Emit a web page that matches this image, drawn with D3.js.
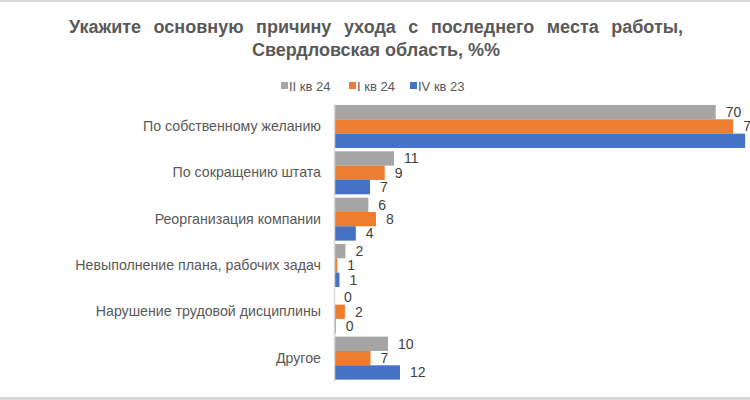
<!DOCTYPE html>
<html><head><meta charset="utf-8">
<script src="https://cdn.jsdelivr.net/npm/d3@7"></script>
<style>body{margin:0;background:#fff}svg{display:block;font-family:"Liberation Sans",Arial,sans-serif}</style>
</head><body><svg id="c" width="750" height="400"></svg>
<script>
const titleLines = ["Укажите основную причину ухода с последнего места работы,", "Свердловская область, %%"];
const categories = ["По собственному желанию","По сокращению штата","Реорганизация компании","Невыполнение плана, рабочих задач","Нарушение трудовой дисциплины","Другое"];
const seriesNames = ["II кв 24","I кв 24","IV кв 23"];
const seriesColors = ["#a5a5a5","#ed7d31","#4472c4"];
const q2_24 = [70, 11, 6.3, 2.1, 0, 9.9];
const q1_24 = [73.2, 9.3, 7.7, 0.6, 2, 6.7];
const q4_23 = [75.4, 6.6, 4, 1, 0.3, 12.1];
const seriesValues = [q2_24, q1_24, q4_23];

const svg = d3.select("#c");
const W = 750, H = 400;
svg.append("rect").attr("x",0).attr("y",0).attr("width",W).attr("height",2).attr("fill","#d9d9d9");
svg.append("rect").attr("x",0).attr("y",H-3).attr("width",W).attr("height",3).attr("fill","#d9d9d9");

const t = svg.append("text").attr("text-anchor","middle").attr("fill","#595959")
  .attr("font-weight","bold").attr("font-size",18);
titleLines.forEach((l,i)=>t.append("tspan").attr("x",376).attr("y",33+i*23)
  .attr("word-spacing", i===0 ? 7.5 : 0).text(l));

const legX = [281, 349, 410];
seriesNames.forEach((n,i)=>{
  const g = svg.append("g").attr("transform",`translate(${legX[i]},86)`);
  g.append("rect").attr("x",0).attr("y",-4).attr("width",7).attr("height",7).attr("fill",seriesColors[i]);
  g.append("text").attr("x",8).attr("y",4.5).attr("font-size",13).attr("fill","#595959").text(n);
});

const x0 = 334;
const x = d3.scaleLinear().domain([0,70]).range([x0, 715.7]);
const y = d3.scaleBand().domain(categories).range([103.3, 381.3]).paddingInner(0.072).paddingOuter(0.036);
const ys = d3.scaleBand().domain(d3.range(3)).range([0, y.bandwidth()]);

const plot = svg.append("g");
categories.forEach((c,ci)=>{
  seriesValues.forEach((vals,si)=>{
    const v = vals[ci];
    const yy = y(c)+ys(si);
    plot.append("rect").attr("x",x(0)).attr("y",yy).attr("width",Math.max(0,x(v)-x(0)))
      .attr("height",ys.bandwidth()).attr("fill",seriesColors[si]);
    plot.append("text").attr("x",x(v)+10).attr("y",yy+ys.bandwidth()/2+5)
      .attr("font-size",14).attr("fill","#404040").text(d3.format(".0f")(v));
  });
});

const axis = d3.axisLeft(y).tickSize(0).tickPadding(13);
const ag = svg.append("g").attr("transform",`translate(${x0},0)`).call(axis);
ag.select(".domain").attr("stroke","#d9d9d9").attr("stroke-width",1.5);
ag.selectAll("text").attr("font-size",14.2).attr("fill","#595959").attr("font-family","Liberation Sans, Arial, sans-serif");
</script></body></html>
